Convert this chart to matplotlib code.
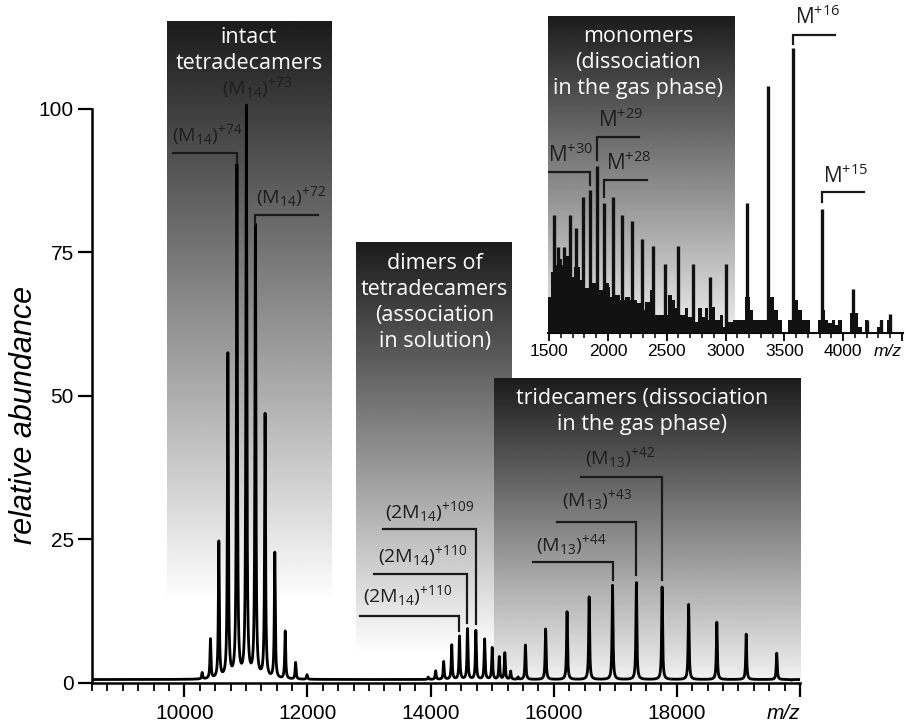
import numpy as np
import matplotlib.pyplot as plt
from matplotlib.ticker import FixedLocator, MultipleLocator, FixedFormatter

plt.rcParams['font.family'] = ['Liberation Sans', 'DejaVu Sans']
plt.rcParams['mathtext.fontset'] = 'custom'
plt.rcParams['mathtext.rm'] = 'Open Sans'
plt.rcParams['mathtext.it'] = 'Open Sans:italic'
plt.rcParams['mathtext.bf'] = 'Open Sans:bold'

# ---- main spectrum: peak centres (m/z) and heights (relative abundance)
tetra_mz = [10289, 10424, 10560, 10707, 10854, 11007, 11154, 11311, 11469, 11638, 11807, 11992, 12140]
tetra_h = [1.7, 7.5, 24.4, 57.0, 89.7, 100.0, 79.3, 46.5, 22.5, 8.9, 3.5, 1.4, 0.6]
dimer_mz = [13962, 14082, 14212, 14343, 14469, 14599, 14735, 14877, 15000, 15115, 15205, 15300, 15420, 15540]
dimer_h = [1.0, 2.1, 3.7, 6.6, 8.1, 9.4, 9.1, 7.6, 6.1, 4.5, 5.2, 2.0, 1.0, 6.6]
trideca_mz = [15868, 16216, 16575, 16955, 17342, 17760, 18191, 18649, 19126, 19622, 19866]
trideca_h = [9.4, 12.4, 15.0, 17.0, 17.5, 16.7, 13.7, 10.6, 8.5, 5.2, 0.5]
baseline_level = 0.6

# ---- inset (monomer region), heights in % of the M+16 peak
mono_mz = [1545, 1574, 1630, 1681, 1732, 1789, 1846, 1908, 1970, 2044, 2118, 2203, 2288,
           2384, 2486, 2600, 2724, 2866, 3008, 3181, 3365, 3578, 3818, 4088, 4201, 4323, 4400]
mono_h = [41.4, 30.3, 30.3, 41.4, 37.0, 47.8, 50.2, 58.7, 45.8, 47.8, 41.4, 39.3, 32.9,
          30.5, 24.1, 30.5, 24.1, 19.8, 24.1, 45.8, 86.8, 100.0, 43.7, 15.3, 4.6, 4.6, 6.7]
noise_mz = [1490, 1500, 1514, 1537, 1580, 1608, 1645, 1693, 1707, 1758, 1792, 1849, 1920, 1962,
            2005, 2019, 2061, 2104, 2146, 2189, 2245, 2288, 2316, 2359, 2401, 2486, 2515, 2543,
            2571, 2614, 2656, 2685, 2741, 2770, 2798, 2826, 2855, 2883, 2911, 2954, 2982, 3025,
            3067, 3170, 3209, 3237, 3350, 3410, 3450, 3478, 3535, 3585, 3620, 3649, 3720, 3790,
            3830, 3850, 3875, 3903, 3932, 3960, 3988, 4060, 4110, 4131, 4159, 4187, 4215, 4286,
            4314, 4343, 4371, 4420, 4510]
noise_level = [12.7, 12.7, 21.5, 23.9, 26.0, 24.0, 27.0, 19.8, 23.0, 18.6, 15.7, 17.4, 15.0, 17.4,
               16.3, 12.7, 13.3, 11.6, 12.7, 11.6, 10.4, 8.1, 11.0, 15.0, 6.3, 6.3, 13.3, 11.6,
               8.7, 6.3, 8.7, 5.7, 4.0, 8.7, 5.7, 8.7, 4.6, 9.2, 4.6, 6.3, 2.2, 4.0,
               4.6, 12.7, 8.1, 4.6, 12.7, 8.0, 4.6, 0.5, 4.6, 11.6, 8.0, 4.6, 0.5, 4.6,
               8.0, 4.6, 3.5, 4.6, 2.8, 4.6, 0.5, 6.9, 6.9, 2.2, 0.5, 4.6, 0.5, 2.2,
               4.6, 0.5, 4.6, 0.5, 0.5]

# shaded boxes: (x0, x1, y0, y1, text, text x, text y)
main_boxes = [
    (9718, 12382, 14, 115.3, 'intact\ntetradecamers', 11050, 110.1),
    (12788, 15321, 5, 76.7, 'dimers of\ntetradecamers\n(association\nin solution)', 14064, 66.3),
    (15029, 20015, 0, 53.1, 'tridecamers (dissociation\nin the gas phase)', 17430, 47.3),
]

# peak labels: (text, text x, text y, bar start x, peak x, bar y, leg end y)
main_labels = [
    (r'(M$_{14}$)$^{+74}$', 9800, 93.3, 9820, 10854, 92.3, 90.5),
    (r'(M$_{14}$)$^{+73}$', 10611, 101.6, None, None, None, None),
    (r'(M$_{14}$)$^{+72}$', 11164, 82.6, 12176, 11154, 81.6, 80.0),
    (r'(2M$_{14}$)$^{+109}$', 13259, 27.7, 13226, 14735, 26.8, 10.3),
    (r'(2M$_{14}$)$^{+110}$', 13145, 20.0, 13080, 14599, 19.0, 10.4),
    (r'(2M$_{14}$)$^{+110}$', 12901, 13.0, 12853, 14469, 11.7, 9.0),
    (r'(M$_{13}$)$^{+42}$', 16507, 37.1, 16442, 17760, 35.9, 18.0),
    (r'(M$_{13}$)$^{+43}$', 16128, 29.7, 16056, 17342, 28.1, 18.8),
    (r'(M$_{13}$)$^{+44}$', 15711, 22.0, 15658, 16955, 21.1, 18.0),
]
inset_labels = [
    (r'M$^{+16}$', 3592, 106.6, 3935, 3578, 104.8, 101.5),
    (r'M$^{+15}$', 3830, 51.0, 4180, 3818, 49.4, 46.0),
    (r'M$^{+30}$', 1491, 58.3, 1492, 1846, 56.6, 52.0),
    (r'M$^{+29}$', 1917, 70.5, 2265, 1908, 68.9, 60.6),
    (r'M$^{+28}$', 1985, 55.4, 2330, 1970, 53.7, 47.8),
]


def gradient_box(ax, x0, x1, y0, y1, top=0.11, bottom=1.0):
    grad = np.linspace(bottom, top, 256).reshape(-1, 1)
    ax.imshow(grad, extent=(x0, x1, y0, y1), origin='lower', aspect='auto',
              cmap='gray', vmin=0, vmax=1, zorder=0, interpolation='bilinear')


def label(ax, txt, tx, ty, xa, xb, yb, ye, size):
    ax.text(tx, ty, txt, fontsize=size, family='Open Sans', color='#1e1e1e',
            ha='left', va='bottom', zorder=4)
    if xa is not None:
        ax.plot([xa, xb, xb], [yb, yb, ye], color='#1a1a1a', lw=1.6,
                solid_joinstyle='miter', zorder=4)


fig = plt.figure(figsize=(9.06, 7.21), dpi=100)
ax = fig.add_axes([92 / 906, 1 - 683 / 721, 708 / 906, 666 / 721])

# spectrum profile built from the peak lists (peak height measured from the floor)
mz = np.linspace(8500, 20000, 12000)
signal = np.full_like(mz, baseline_level)
for c, h in zip(tetra_mz + dimer_mz + trideca_mz, tetra_h + dimer_h + trideca_h):
    signal += (h - baseline_level) * 9.0 ** 2 / ((mz - c) ** 2 + 9.0 ** 2)
ax.plot(mz, signal, color='black', lw=2, zorder=3)

for x0, x1, y0, y1, txt, tx, ty in main_boxes:
    bottom = 0.95 if y0 == 0 else 1.0
    gradient_box(ax, x0, x1, y0, y1, bottom=bottom)
    ax.text(tx, ty, txt, color='white', fontsize=15.5, family='Open Sans',
            ha='center', va='center', linespacing=1.3, zorder=2)

for lab in main_labels:
    label(ax, *lab, size=14)

ax.set_xlim(8500, 20000)
ax.set_ylim(0, 116)
for s in ['top', 'right']:
    ax.spines[s].set_visible(False)
ax.spines['left'].set_bounds(0, 100)
ax.spines['left'].set_linewidth(1.8)
ax.spines['bottom'].set_linewidth(1.8)
ax.xaxis.set_major_locator(FixedLocator([10000, 12000, 14000, 16000, 18000, 20000]))
ax.xaxis.set_major_formatter(FixedFormatter(['10000', '12000', '14000', '16000', '18000', 'm/z']))
ax.xaxis.set_minor_locator(MultipleLocator(250))
ax.set_yticks([0, 25, 50, 75, 100])
ax.tick_params(axis='both', which='major', direction='out', length=10, width=1.6,
               labelsize=15, pad=3)
ax.tick_params(axis='x', which='minor', direction='out', length=6, width=1.3)
ax.tick_params(axis='x', which='major', pad=5)
xl = ax.get_xticklabels()[-1]
xl.set_fontstyle('italic')
xl.set_horizontalalignment('right')
fig.text(24 / 906, 1 - 415 / 721, 'relative abundance', rotation=90, fontsize=22,
         style='italic', ha='center', va='center')

# ---- inset
ins = fig.add_axes([548 / 906, 1 - 333 / 721, 355 / 906, 319 / 721])
ins.patch.set_alpha(0)
gradient_box(ins, 1490, 3073, 0, 111, bottom=0.93)
ins.text(2257, 94.9, 'monomers\n(dissociation\nin the gas phase)', color='white',
         fontsize=15.5, family='Open Sans', ha='center', va='center',
         linespacing=1.3, zorder=2)
ins.fill_between(noise_mz, 0, noise_level, step='post', color='#111111', lw=0, zorder=3)
ins.vlines(mono_mz, 0, mono_h, color='#111111', lw=2.4, zorder=3)
for lab in inset_labels:
    label(ins, *lab, size=15)
ins.set_xlim(1490, 4510)
ins.set_ylim(0, 112)
for s in ['top', 'right', 'left']:
    ins.spines[s].set_visible(False)
ins.spines['bottom'].set_linewidth(1.5)
ins.set_yticks([])
ins.xaxis.set_major_locator(FixedLocator([1500, 2000, 2500, 3000, 3500, 4000, 4500]))
ins.xaxis.set_major_formatter(FixedFormatter(['1500', '2000', '2500', '3000', '3500', '4000', 'm/z']))
ins.xaxis.set_minor_locator(MultipleLocator(100))
ins.tick_params(axis='x', which='major', direction='out', length=6, width=1.3,
                labelsize=12.5, pad=2)
ins.tick_params(axis='x', which='minor', direction='out', length=3.5, width=1.1)
il = ins.get_xticklabels()[-1]
il.set_fontstyle('italic')
il.set_horizontalalignment('right')

fig.savefig('out.png', dpi=100)
